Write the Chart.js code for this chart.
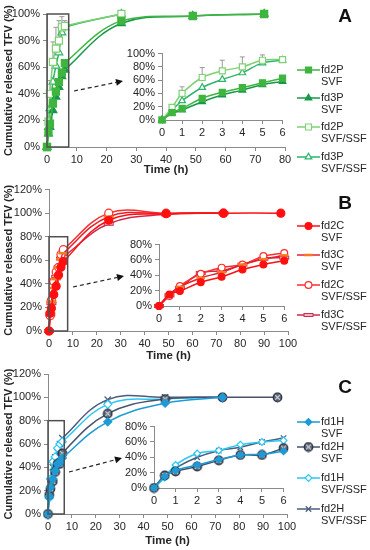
<!DOCTYPE html>
<html>
<head>
<meta charset="utf-8">
<script src="https://cdn.jsdelivr.net/npm/chart.js@4.4.0/dist/chart.umd.min.js"></script>
<style>
  html, body { margin: 0; padding: 0; background: #fff; }
  #wrap { position: relative; width: 370px; height: 550px; overflow: hidden; }
  #wrap canvas { position: absolute; }
</style>
</head>
<body>
<div id="wrap">
  <canvas id="mainA" width="370" height="180" style="left:0;top:0;width:370px;height:180px"></canvas>
  <canvas id="mainB" width="370" height="183" style="left:0;top:180px;width:370px;height:183px"></canvas>
  <canvas id="mainC" width="370" height="190" style="left:0;top:360px;width:370px;height:190px"></canvas>
  <canvas id="insetA" width="170" height="95" style="left:118px;top:44px;width:170px;height:95px"></canvas>
  <canvas id="insetB" width="175" height="92" style="left:116px;top:235px;width:175px;height:92px"></canvas>
  <canvas id="insetC" width="178" height="92" style="left:111px;top:417px;width:178px;height:92px"></canvas>
</div>
<script>
// ---- data ----
const timesA = [0, 0.5, 1, 2, 3, 4, 5, 6, 25, 49, 73];
const fd2P_SVF = [0, 11, 17.6, 32.7, 41.7, 48.7, 56, 63, 95, 98.5, 100];
const fd3P_SVF = [0, 10, 15, 27.6, 37.7, 45, 53, 58, 93, 98.5, 100];
const fd2P_SSF = [0, 19, 40, 64, 74, 80, 90, 91, 100];
const fd2P_SSF_err = [0, 2, 10, 15, 16, 15, 8, 4, 0];
const fd3P_SSF = [0, 15, 29, 49, 61, 71, 86, 90, 100];

const timesB = [0, 0.5, 1, 2, 3, 4, 5, 6, 25, 49, 73, 97];
const fd2C_SVF = [0, 15, 19.4, 31, 38, 47.5, 54, 59, 94, 99.5, 100, 100];
const fd3C_SVF = [0, 15.5, 25, 36.5, 44, 54, 61, 66, 97, 99.5, 100];
const fd2C_SSF = [0, 13, 26, 42, 50, 54, 65, 69, 100, 100, 100];
const fd3C_SSF = [0, 14, 23.6, 43, 46, 54, 61.5, 63, 91, 99, 100];

const timesC = [0, 0.5, 1, 2, 3, 4, 5, 6, 25, 49, 73, 96];
const fd1H_SVF = [0, 15, 23, 30, 37, 43, 44, 48, 79, 95, 100];
const fd2H_SVF = [0, 16.4, 21.6, 28, 36, 43, 43, 52, 86, 98.5, 100, 100];
const fd1H_SSF = [0, 13.8, 30, 45, 49, 56.5, 60, 62, 94, 98.5, 100];
const fd2H_SSF = [0, 16.4, 26, 40, 48.6, 53, 60, 65, 98, 100, 100];

const yTicksMain = { A: 100, B: 120, C: 120 };
const yTicksInset = { A: 100, B: 80, C: 80 };

// ---- setup ----
const FONT = "'Liberation Sans', Arial, sans-serif";
Chart.defaults.font.family = FONT;
Chart.defaults.font.size = 11;
Chart.defaults.color = '#262626';
Chart.defaults.animation = false;

function pts(times, vals) {
  return vals.map((v, i) => ({ x: times[i], y: v }));
}

// custom marker images
function circledX(r) {
  const c = document.createElement('canvas');
  const s = Math.ceil(2 * r + 2);
  c.width = s; c.height = s;
  const g = c.getContext('2d');
  g.beginPath(); g.arc(s / 2, s / 2, r, 0, Math.PI * 2);
  g.fillStyle = '#5b6372'; g.fill();
  g.lineWidth = 1.2; g.strokeStyle = '#2b3446'; g.stroke();
  const d = r * 0.55;
  g.beginPath();
  g.moveTo(s / 2 - d, s / 2 - d); g.lineTo(s / 2 + d, s / 2 + d);
  g.moveTo(s / 2 + d, s / 2 - d); g.lineTo(s / 2 - d, s / 2 + d);
  g.strokeStyle = '#d4d8e0'; g.lineWidth = 1.2; g.stroke();
  return c;
}
function pinkBar(w, h) {
  const c = document.createElement('canvas');
  c.width = w + 2; c.height = h + 2;
  const g = c.getContext('2d');
  g.fillStyle = '#f7b3c0'; g.strokeStyle = '#c8304f'; g.lineWidth = 1;
  g.fillRect(1, 1, w, h); g.strokeRect(1.5, 1.5, w - 1, h - 1);
  return c;
}

const seriesA = [
  { name: ['fd2P', 'SVF'], vals: fd2P_SVF, color: '#3fb53f', bg: '#3fb53f', style: 'rect', r: 5 },
  { name: ['fd3P', 'SVF'], vals: fd3P_SVF, color: '#16994a', bg: '#16994a', style: 'triangle', r: 4.5 },
  { name: ['fd2P', 'SVF/SSF'], vals: fd2P_SSF, color: '#7fd174', bg: '#ffffff', style: 'rect', r: 5 },
  { name: ['fd3P', 'SVF/SSF'], vals: fd3P_SSF, color: '#2db56b', bg: '#ffffff', style: 'triangle', r: 4.5 }
];
const seriesB = [
  { name: ['fd2C', 'SVF'], vals: fd2C_SVF, color: '#ff1010', bg: '#ff1010', style: 'circle', r: 4 },
  { name: ['fd3C', 'SVF'], vals: fd3C_SVF, color: '#e3202c', pbc: '#f57a22', bg: '#f57a22', style: 'line', r: 5, pbw: 2.5 },
  { name: ['fd2C', 'SVF/SSF'], vals: fd2C_SSF, color: '#ff2d2d', bg: '#ffffff', style: 'circle', r: 4 },
  { name: ['fd3C', 'SVF/SSF'], vals: fd3C_SSF, color: '#cc2a4c', bg: '#f7b3c0', style: pinkBar(10, 4), r: 5 }
];
const seriesC = [
  { name: ['fd1H', 'SVF'], vals: fd1H_SVF, color: '#1e9ad6', bg: '#1e9ad6', style: 'rectRot', r: 4 },
  { name: ['fd2H', 'SVF'], vals: fd2H_SVF, color: '#46536a', bg: '#5b6372', style: circledX(4.3), r: 5 },
  { name: ['fd1H', 'SVF/SSF'], vals: fd1H_SSF, color: '#2cc6f4', bg: '#ffffff', style: 'rectRot', r: 4 },
  { name: ['fd2H', 'SVF/SSF'], vals: fd2H_SSF, color: '#4a5d7e', bg: '#4a5d7e', style: 'crossRot', r: 4.5 }
];

function makeDatasets(series, times, maxT, scale) {
  return series.map(s => ({
    label: s.name.join(' '),
    data: pts(times, s.vals).filter(p => p.x <= maxT),
    borderColor: s.color,
    backgroundColor: s.bg,
    pointStyle: s.style,
    pointRadius: s.r * scale,
    pointBorderColor: s.pbc || s.color,
    pointBackgroundColor: s.bg,
    pointBorderWidth: s.pbw || 1.2,
    borderWidth: 1.5,
    tension: 0.4,
    clip: false
  }));
}

// box, arrow, legend, panel letter, error bars
const decoPlugin = {
  id: 'deco',
  beforeDatasetsDraw(chart, args, o) {
    if (!o.err) return;
    const ctx = chart.ctx, xs = chart.scales.x, ys = chart.scales.y;
    ctx.save();
    ctx.strokeStyle = '#9a9a9a'; ctx.lineWidth = 1;
    o.err.forEach(e => {
      chart.data.datasets[e.index].data.forEach((p, i) => {
        const up = e.values[i];
        if (!up) return;
        const x = xs.getPixelForValue(p.x);
        const y0 = ys.getPixelForValue(p.y), y1 = ys.getPixelForValue(p.y + up);
        ctx.beginPath();
        ctx.moveTo(x, y0); ctx.lineTo(x, y1);
        ctx.moveTo(x - 2.5, y1); ctx.lineTo(x + 2.5, y1);
        ctx.stroke();
      });
    });
    ctx.restore();
  },
  afterDatasetsDraw(chart, args, o) {
    const ctx = chart.ctx, xs = chart.scales.x, ys = chart.scales.y;
    ctx.save();
    if (o.box) {
      const x0 = xs.getPixelForValue(0), x1 = xs.getPixelForValue(o.box.x1);
      const y0 = ys.getPixelForValue(o.box.yTop), y1 = ys.getPixelForValue(0);
      ctx.strokeStyle = '#505050'; ctx.lineWidth = 1.5;
      ctx.strokeRect(x0, y0, x1 - x0, y1 - y0);
    }
    if (o.arrow) {
      const [ax, ay, bx, by] = o.arrow;
      const ang = Math.atan2(by - ay, bx - ax);
      const L = 7;
      ctx.strokeStyle = '#222'; ctx.lineWidth = 1.2;
      ctx.setLineDash([4, 3]);
      ctx.beginPath(); ctx.moveTo(ax, ay);
      ctx.lineTo(bx - Math.cos(ang) * L, by - Math.sin(ang) * L); ctx.stroke();
      ctx.setLineDash([]);
      ctx.fillStyle = '#111';
      ctx.beginPath();
      ctx.moveTo(bx, by);
      ctx.lineTo(bx - L * Math.cos(ang) + 3.5 * Math.sin(ang), by - L * Math.sin(ang) - 3.5 * Math.cos(ang));
      ctx.lineTo(bx - L * Math.cos(ang) - 3.5 * Math.sin(ang), by - L * Math.sin(ang) + 3.5 * Math.cos(ang));
      ctx.closePath(); ctx.fill();
    }
    if (o.legend) {
      const lg = o.legend;
      lg.ys.forEach((y, i) => {
        const s = lg.series[i];
        ctx.strokeStyle = s.color; ctx.lineWidth = 1.5;
        ctx.beginPath(); ctx.moveTo(297, y); ctx.lineTo(320, y); ctx.stroke();
        ctx.fillStyle = s.bg; ctx.strokeStyle = s.pbc || s.color; ctx.lineWidth = s.pbw || 1.2;
        Chart.helpers.drawPoint(ctx, { pointStyle: s.style, radius: s.r * 0.85, borderWidth: s.pbw || 1.2, rotation: 0 }, 308.5, y);
        ctx.fillStyle = '#262626';
        ctx.font = '11px ' + FONT;
        ctx.textBaseline = 'middle'; ctx.textAlign = 'left';
        ctx.fillText(s.name[0], 321, y);
        ctx.fillText(s.name[1], 321, y + 12);
      });
    }
    if (o.letter) {
      ctx.fillStyle = '#111';
      ctx.font = 'bold 19px ' + FONT;
      ctx.textAlign = 'center'; ctx.textBaseline = 'middle';
      ctx.fillText(o.letter.text, 345, o.letter.y);
    }
    ctx.restore();
  }
};

const axisColor = '#8a8a8a';

function mainChart(id, series, times, cfg) {
  return new Chart(document.getElementById(id), {
    type: 'line',
    data: { datasets: makeDatasets(series, times, 1000, 1) },
    plugins: [decoPlugin],
    options: {
      responsive: false,
      animation: false,
      layout: { padding: { left: 0, right: cfg.padR, top: cfg.padT, bottom: cfg.padB } },
      plugins: {
        legend: { display: false },
        tooltip: { enabled: false },
        deco: cfg.deco
      },
      scales: {
        x: {
          type: 'linear', min: 0, max: cfg.xMax,
          ticks: { stepSize: 10, padding: 2, maxRotation: 0, autoSkip: false },
          grid: { drawOnChartArea: false, tickLength: 4, color: axisColor },
          border: { color: axisColor },
          title: { display: true, text: 'Time (h)', font: { weight: 'bold', size: 11.5 }, padding: { top: 0, bottom: 0 } },
          afterFit: s => { s.height = cfg.xH; }
        },
        y: {
          min: 0, max: cfg.yMax,
          ticks: { stepSize: 20, padding: 3, autoSkip: false, callback: v => v + '%' },
          grid: { drawOnChartArea: false, tickLength: 4, color: axisColor },
          border: { color: axisColor },
          title: { display: true, text: 'Cumulative released TFV (%)', font: { weight: 'bold', size: 11 }, padding: { top: 2, bottom: 0 } },
          afterFit: s => { s.width = cfg.yW; }
        }
      }
    }
  });
}

function insetChart(id, series, times, cfg) {
  return new Chart(document.getElementById(id), {
    type: 'line',
    data: { datasets: makeDatasets(series, times, 6, 0.85) },
    plugins: [decoPlugin],
    options: {
      responsive: false,
      animation: false,
      layout: { padding: { left: 0, right: 4, top: cfg.padT, bottom: 0 } },
      plugins: {
        legend: { display: false },
        tooltip: { enabled: false },
        deco: cfg.deco || {}
      },
      scales: {
        x: {
          type: 'linear', min: 0, max: 6,
          ticks: { stepSize: 1, padding: 2, maxRotation: 0, autoSkip: false },
          grid: { drawOnChartArea: false, tickLength: 4, color: axisColor },
          border: { color: axisColor },
          afterFit: s => { s.height = cfg.xH; }
        },
        y: {
          min: 0, max: cfg.yMax,
          ticks: { stepSize: 20, padding: 3, autoSkip: false, callback: v => v + '%' },
          grid: { drawOnChartArea: false, tickLength: 4, color: axisColor },
          border: { color: axisColor },
          afterFit: s => { s.width = cfg.yW; }
        }
      }
    }
  });
}

// ---- panel A ----
mainChart('mainA', seriesA, timesA, {
  xMax: 80, yMax: yTicksMain.A, yW: 47, xH: 30, padR: 85, padT: 14, padB: 3,
  deco: {
    err: [{ index: 2, values: fd2P_SSF_err }],
    box: { x1: 7.3, yTop: 100 },
    arrow: [74, 91, 123, 81],
    legend: { series: seriesA, ys: [70, 98, 127, 157] },
    letter: { text: 'A', y: 17 }
  }
});
insetChart('insetA', seriesA, timesA, {
  yMax: yTicksInset.A, yW: 44, xH: 19, padT: 9,
  deco: { err: [{ index: 2, values: fd2P_SSF_err }] }
});

// ---- panel B ----
mainChart('mainB', seriesB, timesB, {
  xMax: 100, yMax: yTicksMain.B, yW: 49, xH: 32, padR: 82, padT: 8, padB: 0,
  deco: {
    box: { x1: 7.8, yTop: 80 },
    arrow: [73, 107, 124, 96],
    legend: { series: seriesB, ys: [46, 75, 105, 135] },
    letter: { text: 'B', y: 24 }
  }
});
insetChart('insetB', seriesB, timesB, { yMax: yTicksInset.B, yW: 43, xH: 21, padT: 8 });

// ---- panel C ----
mainChart('mainC', seriesC, timesC, {
  xMax: 100, yMax: yTicksMain.C, yW: 48, xH: 34, padR: 83, padT: 14, padB: 2,
  deco: {
    box: { x1: 6.8, yTop: 80 },
    arrow: [69, 112, 122, 98],
    legend: { series: seriesC, ys: [62, 87, 118, 149] },
    letter: { text: 'C', y: 28 }
  }
});
insetChart('insetC', seriesC, timesC, { yMax: yTicksInset.C, yW: 43, xH: 21, padT: 8 });
</script>
</body>
</html>
